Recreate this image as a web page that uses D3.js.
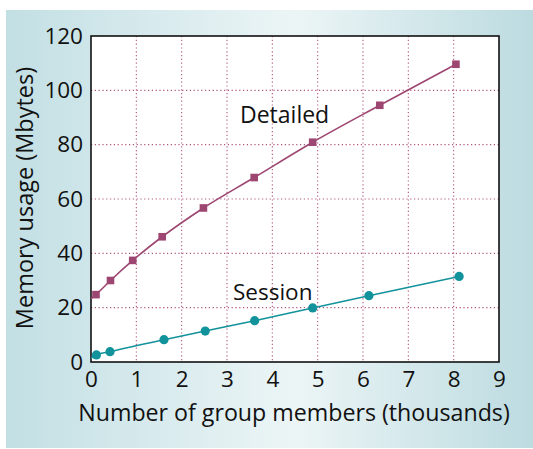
<!DOCTYPE html>
<meta charset="utf-8">
<title>Memory usage</title>
<script src="https://d3js.org/d3.v7.min.js"></script>
<style>
  body { margin: 0; background: #fff; }
  text { font-family: "Open Sans", "Noto Sans", sans-serif; fill: #111; }
</style>
<body>
<div id="viz"></div>
<script>
// values (x in thousands of members, y in Mbytes)
const detailedX = [0.11, 0.43, 0.92, 1.57, 2.48, 3.60, 4.89, 6.37, 8.05];
const detailedY = [24.8, 30.0, 37.4, 46.1, 56.7, 67.9, 80.9, 94.5, 109.6];
const sessionX = [0.12, 0.42, 1.61, 2.52, 3.61, 4.89, 6.13, 8.12];
const sessionY = [2.6, 3.8, 8.2, 11.4, 15.2, 19.9, 24.4, 31.5];
// where each line meets the left axis
const lineStartY = {detailed: 23.2, session: 1.4};
const xTicks = [0, 1, 2, 3, 4, 5, 6, 7, 8, 9];
const yTicks = [0, 20, 40, 60, 80, 100, 120];

const width = 533, height = 449;
const margin = {top: 36, right: 34, bottom: 87, left: 91};

const svg = d3.select("#viz").append("svg")
  .attr("width", width)
  .attr("height", height);

const defs = svg.append("defs");
const grad = defs.append("linearGradient").attr("id", "bg")
  .attr("x1", "0%").attr("x2", "100%").attr("y1", "0%").attr("y2", "0%");
grad.append("stop").attr("offset", "0%").attr("stop-color", "#c2dfe4");
grad.append("stop").attr("offset", "55%").attr("stop-color", "#ecf5f6");
grad.append("stop").attr("offset", "100%").attr("stop-color", "#bcdbe0");

svg.append("rect")
  .attr("x", 6).attr("y", 10)
  .attr("width", width - 6).attr("height", height - 11)
  .attr("fill", "url(#bg)");

const x = d3.scaleLinear().domain([0, 9]).range([margin.left, width - margin.right]);
const y = d3.scaleLinear().domain([0, 120]).range([height - margin.bottom, margin.top]);

// plot area
svg.append("rect")
  .attr("x", x(0)).attr("y", y(120))
  .attr("width", x(9) - x(0)).attr("height", y(0) - y(120))
  .attr("fill", "#fff");

// dotted grid
const grid = svg.append("g")
  .attr("stroke", "#b0547e")
  .attr("stroke-width", 1.1)
  .attr("stroke-dasharray", "1.2,2.6");
grid.selectAll(".gx").data(xTicks.slice(1, -1)).join("line")
  .attr("x1", d => x(d)).attr("x2", d => x(d))
  .attr("y1", y(120)).attr("y2", y(0));
grid.selectAll(".gy").data(yTicks.slice(1, -1)).join("line")
  .attr("y1", d => y(d)).attr("y2", d => y(d))
  .attr("x1", x(0)).attr("x2", x(9));

// frame
svg.append("rect")
  .attr("x", x(0)).attr("y", y(120))
  .attr("width", x(9) - x(0)).attr("height", y(0) - y(120))
  .attr("fill", "none")
  .attr("stroke", "#111")
  .attr("stroke-width", 1.6);

// axes
const xAxis = svg.append("g")
  .attr("transform", `translate(0,${y(0)})`)
  .call(d3.axisBottom(x).tickValues(xTicks).tickSize(0).tickPadding(9));
const yAxis = svg.append("g")
  .attr("transform", `translate(${x(0)},0)`)
  .call(d3.axisLeft(y).tickValues(yTicks).tickSize(0).tickPadding(8));
[xAxis, yAxis].forEach(g => {
  g.select(".domain").remove();
  g.selectAll("text")
    .style("font-family", "'Open Sans', 'Noto Sans', sans-serif")
    .style("font-size", "22.5px")
    .attr("fill", "#111");
});
xAxis.selectAll("text").attr("dy", "0.71em");

svg.append("text")
  .attr("x", 294)
  .attr("y", 421)
  .attr("text-anchor", "middle")
  .style("font-size", "23.2px")
  .text("Number of group members (thousands)");

svg.append("text")
  .attr("transform", `translate(33,198) rotate(-90)`)
  .attr("text-anchor", "middle")
  .style("font-size", "23.5px")
  .text("Memory usage (Mbytes)");

// series
const detailed = detailedX.map((d, i) => [d, detailedY[i]]);
const session = sessionX.map((d, i) => [d, sessionY[i]]);

const line = d3.line()
  .x(d => x(d[0])).y(d => y(d[1]))
  .curve(d3.curveMonotoneX);

svg.append("path")
  .datum([[0, lineStartY.detailed], ...detailed])
  .attr("d", line)
  .attr("fill", "none")
  .attr("stroke", "#9e4672")
  .attr("stroke-width", 1.6);

svg.append("path")
  .datum([[0, lineStartY.session], ...session])
  .attr("d", line)
  .attr("fill", "none")
  .attr("stroke", "#12939b")
  .attr("stroke-width", 1.6);

svg.append("g").selectAll("rect").data(detailed).join("rect")
  .attr("x", d => x(d[0]) - 3.8).attr("y", d => y(d[1]) - 3.8)
  .attr("width", 7.6).attr("height", 7.6)
  .attr("fill", "#9e4672");

svg.append("g").selectAll("circle").data(session).join("circle")
  .attr("cx", d => x(d[0])).attr("cy", d => y(d[1]))
  .attr("r", 4.6)
  .attr("fill", "#12939b");

// series labels
svg.append("text")
  .attr("x", 240).attr("y", 123)
  .style("font-size", "23px")
  .text("Detailed");
svg.append("text")
  .attr("x", 233).attr("y", 300)
  .style("font-size", "22.5px")
  .text("Session");
</script>
</body>
